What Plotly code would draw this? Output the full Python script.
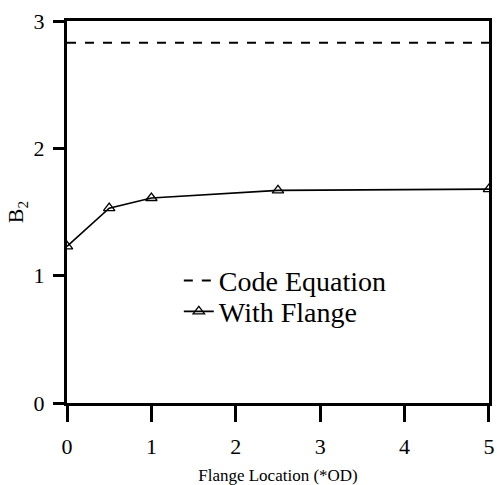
import plotly.graph_objects as go

flange_x = [0, 0.5, 1, 2.5, 5]
flange_y = [1.23, 1.53, 1.61, 1.67, 1.68]
code_x = [0, 5]
code_y = [2.83, 2.83]
x_ticks = [0, 1, 2, 3, 4, 5]
y_ticks = [0, 1, 2, 3]

FONT = "Liberation Serif"

fig = go.Figure()
fig.add_trace(go.Scatter(
    x=code_x, y=code_y, mode="lines", name="Code Equation", legend="legend",
    line=dict(color="black", width=2, dash="dash"),
))
fig.add_trace(go.Scatter(
    x=flange_x, y=flange_y, mode="lines+markers", name="With Flange", legend="legend2",
    line=dict(color="black", width=1.6),
    marker=dict(symbol="triangle-up-open", size=10, color="black", line=dict(width=1.3)),
))

leg_common = dict(xanchor="left", yanchor="middle", bgcolor="rgba(0,0,0,0)",
                  font=dict(size=28, family=FONT, color="black"), borderwidth=0)

fig.update_layout(
    width=497, height=485,
    margin=dict(l=67, r=8, t=21, b=82),
    paper_bgcolor="white", plot_bgcolor="white",
    font=dict(family=FONT, color="black", size=16),
    showlegend=True,
    legend=dict(x=0.265, y=0.320, **leg_common),
    legend2=dict(x=0.265, y=0.239, **leg_common),
    xaxis=dict(
        range=[0, 5.0005], tickvals=x_ticks, ticktext=[str(v) for v in x_ticks],
        showgrid=False, zeroline=False, showline=True, linecolor="black", linewidth=3,
        mirror=True, ticks="outside", ticklen=16, tickwidth=2.5, tickcolor="black",
        tickfont=dict(size=22, family=FONT), automargin=False, ticklabeloverflow="allow",
        ticklabelstandoff=6,
        title=dict(text="Flange Location (*OD)", font=dict(size=17, family=FONT), standoff=14),
    ),
    yaxis=dict(
        range=[0, 3], tickvals=y_ticks, ticktext=[str(v) for v in y_ticks],
        showgrid=False, zeroline=False, showline=True, linecolor="black", linewidth=3,
        mirror=True, ticks="outside", ticklen=11, tickwidth=3, tickcolor="black",
        tickfont=dict(size=22, family=FONT), automargin=False, ticklabelstandoff=4,
        title=dict(text="B<sub>2</sub>", font=dict(size=22, family=FONT), standoff=4),
    ),
)

fig.write_html(
    "out.html",
    config={"displayModeBar": False},
    post_script="document.body.style.margin='0';document.body.style.overflow='hidden';",
)
